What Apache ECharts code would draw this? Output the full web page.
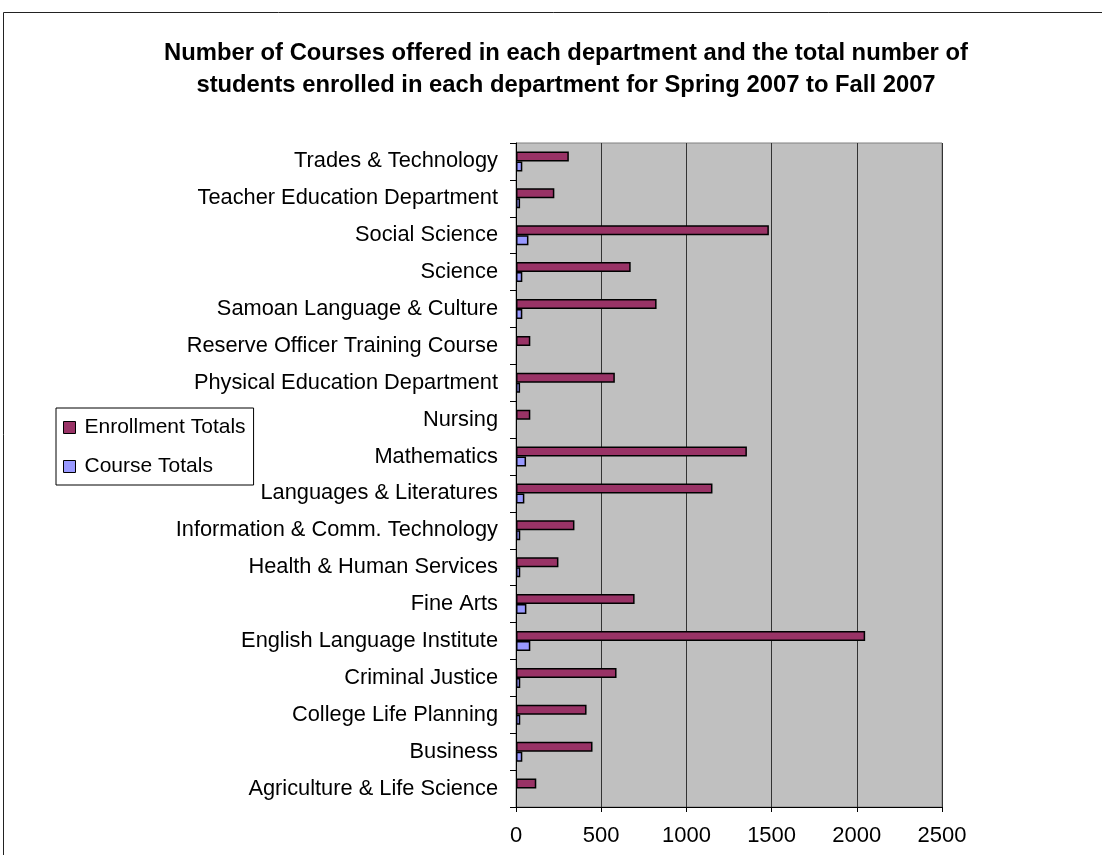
<!DOCTYPE html>
<html>
<head>
<meta charset="utf-8">
<script src="https://cdn.jsdelivr.net/npm/echarts@6/dist/echarts.min.js"></script>
<style>
  html, body { margin: 0; padding: 0; background: #fff; }
  #grafico { width: 1102px; height: 855px; }
</style>
</head>
<body>
<div id="grafico"></div>
<script type="text/javascript">
// Departamentos, de arriba hacia abajo como en la imagen
var departments = [
  "Trades & Technology",
  "Teacher Education Department",
  "Social Science",
  "Science",
  "Samoan Language & Culture",
  "Reserve Officer Training Course",
  "Physical Education Department",
  "Nursing",
  "Mathematics",
  "Languages & Literatures",
  "Information & Comm. Technology",
  "Health & Human Services",
  "Fine Arts",
  "English Language Institute",
  "Criminal Justice",
  "College Life Planning",
  "Business",
  "Agriculture & Life Science"
];

var enrollmentTotals = [310, 225, 1484, 673, 825, 84, 580, 84, 1355, 1153, 343, 249, 696, 2049, 590, 414, 449, 119];
var courseTotals = [37, 24, 73, 37, 37, null, 24, null, 59, 49, 25, 25, 61, 84, 25, 25, 37, null];

var xTicks = { min: 0, max: 2500, interval: 500 };

var titleText = "Number of Courses offered in each department and the total number of\nstudents enrolled in each department for Spring 2007 to Fall 2007";

var myChart = echarts.init(document.getElementById("grafico"));

var option = {
  backgroundColor: "#fff",
  animation: false,
  textStyle: { fontFamily: "Liberation Sans" },
  title: {
    text: titleText,
    left: 561,
    top: 32,
    textAlign: "center",
    textStyle: {
      fontFamily: "Liberation Sans",
      fontSize: 23.8,
      fontWeight: "bold",
      color: "#000",
      lineHeight: 32
    }
  },
  // marco exterior del grafico
  graphic: [
    {
      type: "rect",
      shape: { x: 3.5, y: 12.5, width: 1200, height: 1000 },
      style: { fill: "none", stroke: "#222", lineWidth: 1 },
      silent: true
    }
  ],
  legend: {
    orient: "vertical",
    left: 56,
    top: 408,
    data: ["Enrollment Totals", "Course Totals"],
    icon: "rect",
    itemWidth: 12,
    itemHeight: 12,
    itemGap: 18,
    padding: [9, 8, 8, 7],
    borderColor: "#000",
    borderWidth: 1,
    backgroundColor: "#fff",
    textStyle: { fontSize: 21, color: "#000", fontFamily: "Liberation Sans", padding: [0, 0, 0, 4] },
    itemStyle: { borderColor: "#000", borderWidth: 1 }
  },
  grid: {
    left: 516,
    right: 160,
    top: 143,
    bottom: 48,
    show: true,
    backgroundColor: "#C0C0C0",
    borderColor: "#808080",
    borderWidth: 1
  },
  xAxis: {
    type: "value",
    min: xTicks.min,
    max: xTicks.max,
    interval: xTicks.interval,
    axisLine: { show: true, lineStyle: { color: "#000", width: 1 } },
    axisTick: { show: true, length: 5, lineStyle: { color: "#000" } },
    axisLabel: {
      fontSize: 22, color: "#000", margin: 18, fontFamily: "Liberation Sans",
      formatter: function (v) { return String(v); }
    },
    splitLine: { show: true, lineStyle: { color: "#333", width: 1 } }
  },
  yAxis: {
    type: "category",
    data: departments,
    inverse: true,
    axisLine: { show: true, lineStyle: { color: "#000", width: 1 } },
    axisTick: { show: true, length: 6, lineStyle: { color: "#000" } },
    axisLabel: { fontSize: 21.8, color: "#000", margin: 18, fontFamily: "Liberation Sans" },
    splitLine: { show: false }
  },
  series: [
    {
      name: "Enrollment Totals",
      type: "bar",
      data: enrollmentTotals,
      barWidth: 10,
      barGap: "0%",
      itemStyle: { color: "#993366", borderColor: "#000", borderWidth: 1.5 }
    },
    {
      name: "Course Totals",
      type: "bar",
      data: courseTotals,
      barWidth: 10,
      barGap: "0%",
      itemStyle: { color: "#9999FF", borderColor: "#000", borderWidth: 1.5 }
    }
  ]
};

myChart.setOption(option);
</script>
</body>
</html>
